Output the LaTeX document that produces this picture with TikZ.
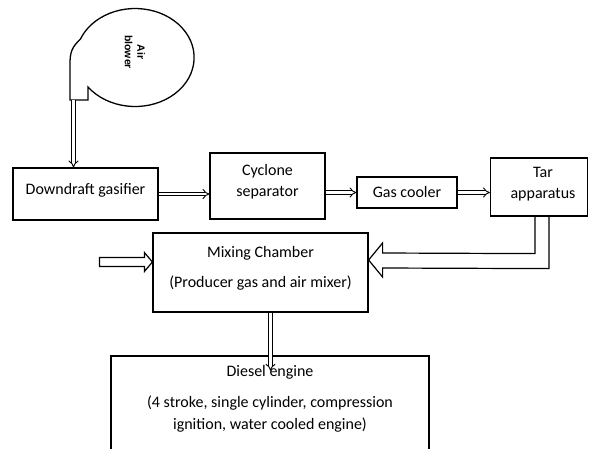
\documentclass[tikz,border=0pt]{standalone}
\usepackage{fontspec}
\setmainfont{Carlito}
\newfontfamily\arialfont{Liberation Sans}
\usetikzlibrary{arrows.meta,calc}
\begin{document}
\begin{tikzpicture}[x=1pt,y=-1pt,
  box/.style={draw,line width=1.2pt,rectangle,inner sep=0pt},
  lbl/.style={font=\fontsize{16}{21}\selectfont,align=center,inner sep=0pt},
  dbl/.style={draw,double distance=2.6pt,line width=0.9pt,-{Implies[length=4pt,width=9pt]}},
  blk/.style={draw,line width=1.2pt,line join=miter}]
\useasboundingbox[fill=white] (0,0) rectangle (589,448);
% air blower
\draw[line width=1.3pt,line join=miter] (70,100) -- (88,100) -- (88,87)
  arc[start angle=143,end angle=-158,x radius=59,y radius=49]
  .. controls (72,47) and (70,52) .. (70,64) -- cycle;
\node[font=\arialfont\bfseries\fontsize{10.5}{12.5}\selectfont,align=center,rotate=-90,inner sep=0pt] (blower) at (135,52) {Air\\blower};
\coordinate (blowout) at (73.5,100);
% boxes
\node[box,minimum width=145pt,minimum height=52pt] (gas) at (85.5,194) {};
\node[lbl] (gast) at (85.5,190) {Downdraft gasifier};
\node[box,minimum width=115pt,minimum height=66pt] (cyc) at (267.5,186) {};
\node[lbl] (cyct) at (267.5,182) {Cyclone\\separator};
\node[box,minimum width=100pt,minimum height=31pt] (cool) at (407,192.5) {};
\node[lbl] (coolt) at (407,192) {Gas cooler};
\node[box,minimum width=97pt,minimum height=58pt] (tar) at (539,187) {};
\node[lbl] (tart) at (543,184) {Tar\\apparatus};
\node[box,minimum width=215pt,minimum height=79pt] (mix) at (260.5,272.5) {};
\node[lbl] (mixt1) at (260.5,253) {Mixing Chamber};
\node[lbl] (mixt2) at (260.5,283) {(Producer gas and air mixer)};
\node[box,minimum width=318pt,minimum height=120pt] (die) at (270,416) {};
\node[lbl] (diet1) at (270,372) {Diesel engine};
\node[lbl,font=\fontsize{16}{22}\selectfont] (diet2) at (270,414) {(4 stroke, single cylinder, compression\\ignition, water cooled engine)};
% connectors
\draw[dbl] (blowout) -- (blowout |- gas.north);
\draw[dbl] (gas.east) -- (gas.east -| cyc.west);
\draw[dbl] (cool.west -| cyc.east) -- (cool.west);
\draw[dbl] (cool.east) -- (cool.east -| tar.west);
\coordinate (mixdown) at ($(mix.south)+(10,0)$);
\coordinate (dieend) at ($(mixdown)+(0,58)$);
\draw[dbl] (mixdown) -- (dieend);
% block arrow from tar apparatus to mixing chamber
\coordinate (tip) at ($(mix.east)+(0,-12.5)$);
\draw[blk] ($(tar.south)+(-4,0)$) -- ($(tar.south)+(-4,37)$) -- ($(tip)+(14,-7)$)
  -- ($(tip)+(14,-17)$) -- (tip) -- ($(tip)+(14,17)$) -- ($(tip)+(14,8)$)
  -- ($(tar.south)+(10,52)$) -- ($(tar.south)+(10,0)$);
% incoming air arrow
\coordinate (tipL) at ($(mix.west)+(0,-10.5)$);
\draw[blk] ($(tipL)+(-53,-4.5)$) -- ($(tipL)+(-8,-4.5)$) -- ($(tipL)+(-8,-9.5)$) -- (tipL)
  -- ($(tipL)+(-8,9.5)$) -- ($(tipL)+(-8,4.5)$) -- ($(tipL)+(-53,4.5)$) -- cycle;
\end{tikzpicture}
\end{document}
